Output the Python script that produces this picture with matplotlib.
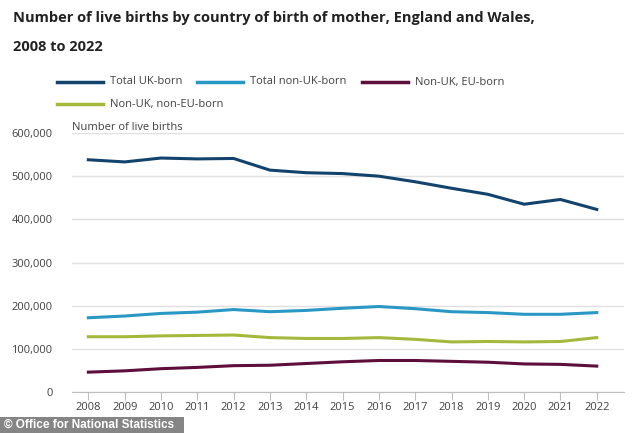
import matplotlib.pyplot as plt
from matplotlib.lines import Line2D
from matplotlib.patches import Rectangle
from matplotlib.ticker import FuncFormatter

# Data
years = list(range(2008, 2023))
uk_born = [538000, 533000, 542000, 540000, 541000, 514000, 508000, 506000,
           500000, 487000, 472000, 458000, 435000, 446000, 423000]
non_uk_born = [172000, 176000, 182000, 185000, 191000, 186000, 189000, 194000,
               198000, 193000, 186000, 184000, 180000, 180000, 184000]
eu_born = [46000, 49000, 54000, 57000, 61000, 62000, 66000, 70000,
           73000, 73000, 71000, 69000, 65000, 64000, 60000]
non_eu_born = [128000, 128000, 130000, 131000, 132000, 126000, 124000, 124000,
               126000, 122000, 116000, 117000, 116000, 117000, 126000]

series_names = ["Total UK-born", "Total non-UK-born", "Non-UK, EU-born",
                "Non-UK, non-EU-born"]
series_values = [uk_born, non_uk_born, eu_born, non_eu_born]
colors = ["#12436D", "#2A98C4", "#5E0E3B", "#A4B93C"]

plt.rcParams['font.family'] = ['Open Sans', 'DejaVu Sans']
grey = "#414042"

W, H = 634, 433
fig = plt.figure(figsize=(W / 100, H / 100), dpi=100)
ax = fig.add_axes([72 / W, 1 - 392 / H, (624 - 72) / W, (392 - 133) / H])

for name, vals, c in zip(series_names, series_values, colors):
    ax.plot(years, vals, color=c, linewidth=2.2, label=name)

ax.set_ylim(0, 600000)
ax.set_xlim(2007.55, 2022.75)
ax.set_yticks(range(0, 600001, 100000))
ax.yaxis.set_major_formatter(FuncFormatter(lambda v, p: f"{int(v):,}"))
ax.set_xticks(years)
ax.grid(axis="y", color="#e0e0e0", linewidth=1)
ax.set_axisbelow(True)
for s in ["top", "right", "left"]:
    ax.spines[s].set_visible(False)
ax.spines["bottom"].set_color("#bdbdbd")
ax.tick_params(axis="y", length=0, labelsize=8, labelcolor=grey, pad=14)
ax.tick_params(axis="x", length=6, color="#bdbdbd", labelsize=8,
               labelcolor=grey, pad=1)

fig.text(72 / W, 1 - 128 / H, "Number of live births", fontsize=8,
         color=grey, va="center", ha="left")

# title
fig.text(13 / W, 1 - 18 / H,
         "Number of live births by country of birth of mother, England and Wales,",
         fontsize=10.5, fontweight="bold", color="#222222", va="center")
fig.text(13 / W, 1 - 47 / H, "2008 to 2022", fontsize=10.5,
         fontweight="bold", color="#222222", va="center")

# legend, drawn by hand to keep the ONS layout
legend_pos = [(57, 82), (197, 82), (362, 82), (57, 104)]
for (lx, ly), name, c in zip(legend_pos, series_names, colors):
    fig.add_artist(Line2D([lx / W, (lx + 46) / W], [1 - ly / H, 1 - ly / H],
                          color=c, linewidth=2.5))
    fig.text((lx + 53) / W, 1 - ly / H, name, fontsize=8, color=grey,
             va="center", ha="left")

# source badge
fig.add_artist(Rectangle((0, 0), 184 / W, 16 / H, transform=fig.transFigure,
                         facecolor="#858585", edgecolor="none"))
fig.text(4 / W, 8 / H, "© Office for National Statistics",
         fontsize=8.5, fontweight="bold", color="white", va="center",
         family="Liberation Sans")

fig.savefig("out.png", dpi=100)
